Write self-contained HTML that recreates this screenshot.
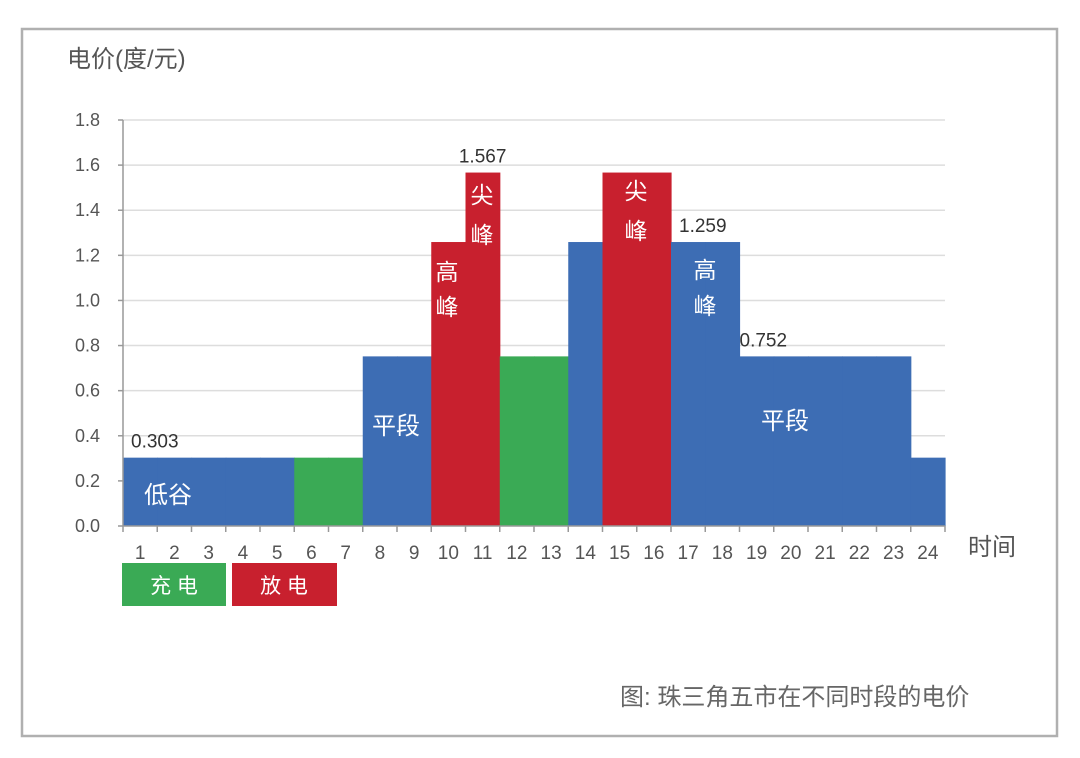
<!DOCTYPE html>
<html><head><meta charset="utf-8"><style>
body{margin:0;background:#fff;width:1080px;height:758px;overflow:hidden}
svg{display:block;font-family:"Liberation Sans","Noto Sans CJK SC",sans-serif}
</style></head><body>
<svg id="chart" width="1080" height="758" viewBox="0 0 1080 758">
<rect x="22" y="29" width="1035" height="707" fill="none" stroke="#b0b0b0" stroke-width="2.5"/>
<text x="67" y="67" font-size="24" fill="#555">电价(度/元)</text>
<text x="968" y="555" font-size="24" fill="#555">时间</text>
<g id="grid"></g><g id="bars"></g><g id="axes"></g><g id="labels"></g>
<rect x="122" y="563" width="104" height="43" fill="#3aaa55"/>
<text x="174" y="593" font-size="21" fill="#fff" text-anchor="middle">充  电</text>
<rect x="232" y="563" width="105" height="43" fill="#c8202e"/>
<text x="284" y="593" font-size="21" fill="#fff" text-anchor="middle">放  电</text>
<text x="620" y="705" font-size="24" fill="#666">图: 珠三角五市在不同时段的电价</text>
</svg>
<script>
const hours=[1,2,3,4,5,6,7,8,9,10,11,12,13,14,15,16,17,18,19,20,21,22,23,24];
const prices=[0.303,0.303,0.303,0.303,0.303,0.303,0.303,0.752,0.752,1.259,1.567,0.752,0.752,1.259,1.567,1.567,1.259,1.259,0.752,0.752,0.752,0.752,0.752,0.303];
const kinds=["b","b","b","b","b","g","g","b","b","r","r","g","g","b","r","r","b","b","b","b","b","b","b","b"];
const yTicks=["0.0","0.2","0.4","0.6","0.8","1.0","1.2","1.4","1.6","1.8"];
const valueLabels=[{h:1,v:0.303,t:"0.303"},{h:11,v:1.567,t:"1.567"},{h:17,v:1.259,t:"1.259"},{h:19,v:0.752,t:"0.752"}];
const x0=123,x1=945,y0=526,y1=120,yMax=1.8;
const bw=(x1-x0)/24;
const X=h=>x0+(h-1)*bw;
const Y=v=>y0-(v/yMax)*(y0-y1);
const col={b:"#3d6db4",g:"#3aaa55",r:"#c8202e"};
const ns="http://www.w3.org/2000/svg";
function mk(p,tag,a,txt){const e=document.createElementNS(ns,tag);for(const k in a)e.setAttribute(k,a[k]);if(txt!==undefined)e.textContent=txt;document.getElementById(p).appendChild(e);return e;}
yTicks.forEach((t,i)=>{const v=parseFloat(t);const y=Y(v);
 if(v>0){const g=mk("grid","line",{x1:x0,x2:x1,y1:y,y2:y,stroke:"#ddd","stroke-width":1.5});
 
 }
 const tk=mk("axes","line",{x1:x0-5,x2:x0,y1:y,y2:y,stroke:"#999","stroke-width":1.5});
 
 
 const l=mk("axes","text",{x:x0-23,y:y+6,"font-size":18,fill:"#555","text-anchor":"end"},t);
 
 
});
hours.forEach((h,i)=>{
 const r=mk("bars","rect",{x:X(h),y:Y(prices[i]),width:bw+0.6,height:y0-Y(prices[i]),fill:col[kinds[i]]});
 
 
 const l=mk("axes","text",{x:X(h)+bw/2,y:559,"font-size":19,fill:"#555","text-anchor":"middle"},String(h));
 
 
});
for(let i=0;i<=24;i++){const t=mk("axes","line",{x1:x0+i*bw,x2:x0+i*bw,y1:y0,y2:y0+6,stroke:"#999","stroke-width":1.5});
 
 }
const ax=mk("axes","path",{d:`M${x0} ${y1} V${y0} H${x1}`,fill:"none",stroke:"#999","stroke-width":1.5});


valueLabels.forEach(o=>{const x=o.h===1?X(1)+8:o.h===19?X(19):o.h===17?X(17)+8:X(o.h)+bw/2;
 const l=mk("labels","text",{x:x,y:Y(o.v)-10,"font-size":19,fill:"#333","text-anchor":o.h===11?"middle":"start"},o.t);
 
 });
const segs=[["低谷",168,503],["平段",396,434],["平段",785,429]];
segs.forEach(s=>{const l=mk("labels","text",{x:s[1],y:s[2],"font-size":24,fill:"#fff","text-anchor":"middle"},s[0]);
 
 });
const vert=[["高",447,280],["峰",447,315],["尖",482,203],["峰",482,243],["尖",636,199],["峰",636,239],["高",705,278],["峰",705,314]];
vert.forEach(s=>{const l=mk("labels","text",{x:s[1],y:s[2],"font-size":23,fill:"#fff","text-anchor":"middle"},s[0]);
 
 });
</script>
</body></html>
